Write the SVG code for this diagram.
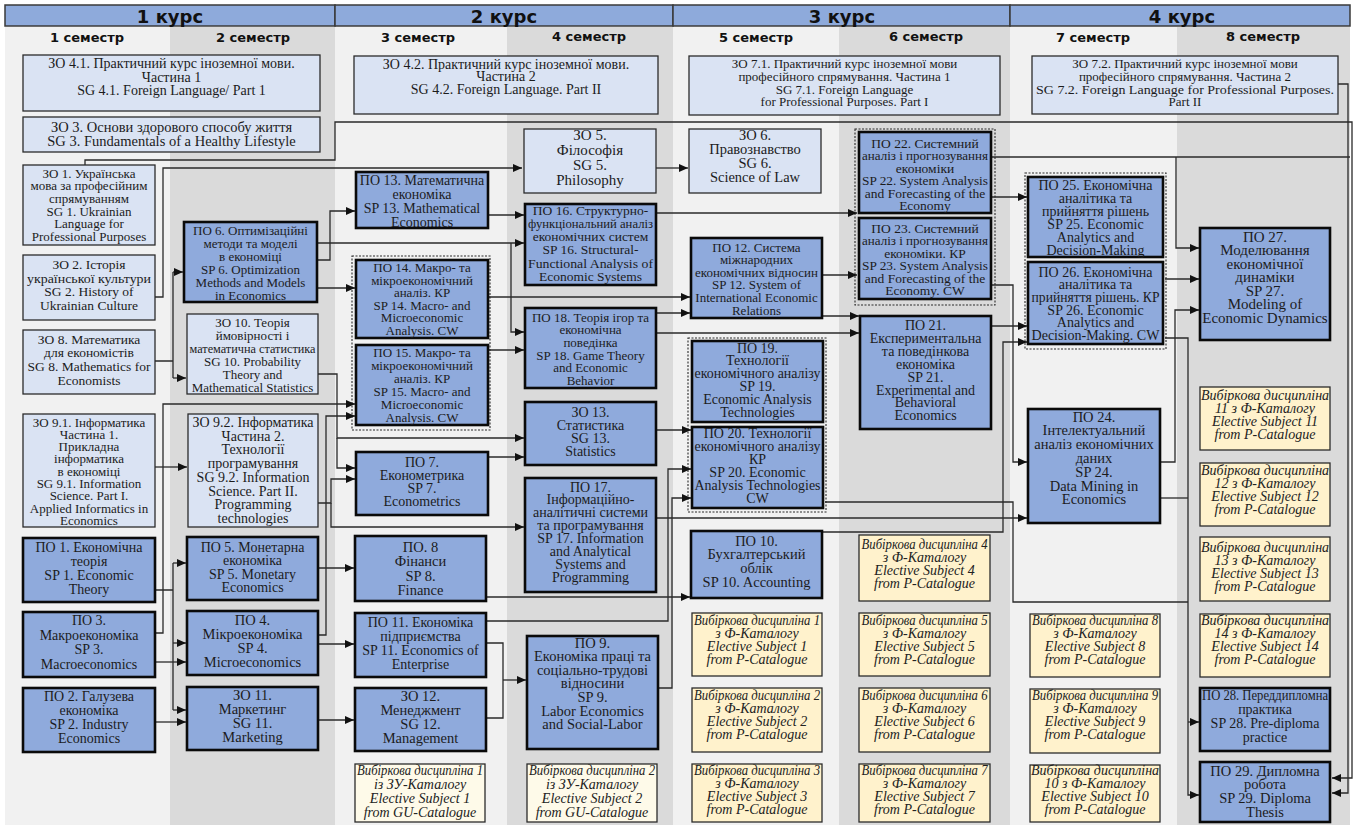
<svg xmlns="http://www.w3.org/2000/svg" width="1357" height="826" viewBox="0 0 1357 826">
<style>
.t{font-family:"Liberation Serif","Times New Roman",serif;fill:#1c1c1c;text-anchor:middle}
.i{font-style:italic;fill:#222}
.lb{fill:#dae3f3;stroke:#2b2b2b;stroke-width:1.3}
.db{fill:#8faadc;stroke:#0a0a0a;stroke-width:2.6}
.el{fill:#fff2cc;stroke:#2b2b2b;stroke-width:1.3}
.eg{fill:#fefae9;stroke:#2b2b2b;stroke-width:1.3}
.gr{fill:none;stroke:#2b2b2b;stroke-width:1.1;stroke-dasharray:2 1.5}
.hb{fill:#8eaadb;stroke:#3a3a3a;stroke-width:1.5}
.ht{font-family:"DejaVu Sans",sans-serif;font-weight:bold;font-size:18px;fill:#111;text-anchor:middle}
.st{font-family:"DejaVu Sans",sans-serif;font-weight:bold;font-size:13px;fill:#111;text-anchor:middle}
.c path{fill:none;stroke:#2a2a2a;stroke-width:1.3}
.c .a{marker-end:url(#ah)}
</style>
<defs>
<marker id="ah" markerUnits="userSpaceOnUse" markerWidth="9" markerHeight="8" refX="9" refY="4" orient="auto"><path d="M0,0 L9,4 L0,8 z" fill="#111"/></marker>
</defs>
<rect width="1357" height="826" fill="#fff"/>
<g id="stripes">
<rect x="5" y="27" width="165" height="798" fill="#f1f1f1"/>
<rect x="170" y="27" width="165" height="798" fill="#dadada"/>
<rect x="335" y="27" width="172" height="798" fill="#f1f1f1"/>
<rect x="507" y="27" width="166" height="798" fill="#dadada"/>
<rect x="673" y="27" width="166" height="798" fill="#f1f1f1"/>
<rect x="839" y="27" width="171" height="798" fill="#dadada"/>
<rect x="1010" y="27" width="167" height="798" fill="#f1f1f1"/>
<rect x="1177" y="27" width="173" height="798" fill="#dadada"/>
</g>
<g id="headers">
<rect class="hb" x="5" y="5" width="330" height="21"/>
<rect class="hb" x="335" y="5" width="338" height="21"/>
<rect class="hb" x="673" y="5" width="337" height="21"/>
<rect class="hb" x="1010" y="5" width="340" height="21"/>
<text class="ht" x="170" y="23">1 курс</text>
<text class="ht" x="504" y="23">2 курс</text>
<text class="ht" x="842" y="23">3 курс</text>
<text class="ht" x="1182" y="23">4 курс</text>
<text class="st" x="87" y="42">1 семестр</text>
<text class="st" x="253" y="42">2 семестр</text>
<text class="st" x="418" y="42">3 семестр</text>
<text class="st" x="589" y="41">4 семестр</text>
<text class="st" x="756" y="42">5 семестр</text>
<text class="st" x="926" y="41">6 семестр</text>
<text class="st" x="1093" y="42">7 семестр</text>
<text class="st" x="1263" y="41">8 семестр</text>
</g>
<g id="groups">
<rect class="gr" x="352" y="256" width="138" height="174"/>
<rect class="gr" x="688" y="338" width="138" height="174"/>
<rect class="gr" x="855" y="129" width="140" height="176"/>
<rect class="gr" x="1025" y="173" width="141" height="176"/>
</g>
<g class="c" id="connectors">
<path class="a" d="M85,165 V160 H335 V122 H1352 V778 H1332"/>
<path class="a" d="M1338,84 H1348 V793 H1332"/>
<path class="a" d="M155,297 H163 V168 H522"/>
<path class="a" d="M656,168 H688"/>
<path d="M155,361 H173 M173,272 V378"/>
<path class="a" d="M173,272 H183"/>
<path class="a" d="M173,378 H186"/>
<path class="a" d="M317,260 H330 V211 H355"/>
<path class="a" d="M317,243 H524"/>
<path class="a" d="M511,243 V332 H524"/>
<path class="a" d="M317,288 H355"/>
<path class="a" d="M488,215 H524"/>
<path class="a" d="M656,213 H857"/>
<path class="a" d="M488,297 H690"/>
<path class="a" d="M488,350 H524"/>
<path class="a" d="M656,313 H690"/>
<path class="a" d="M656,333 H859"/>
<path class="a" d="M822,316 H859"/>
<path class="a" d="M822,275 H857"/>
<path class="a" d="M656,430 H691"/>
<path class="a" d="M488,457 H524"/>
<path class="a" d="M318,374 H337 V438 H524"/>
<path class="a" d="M337,438 V468 H355"/>
<path class="a" d="M155,633 H163 V404 H355"/>
<path class="a" d="M318,635 H326 V416 H355"/>
<path class="a" d="M155,467 H187"/>
<path class="a" d="M318,503 H331 V479 H355"/>
<path class="a" d="M331,503 V527 H524"/>
<path d="M155,590 H173 M173,563 V710"/>
<path class="a" d="M173,563 H186"/>
<path class="a" d="M173,643 H186"/>
<path class="a" d="M173,710 H186"/>
<path class="a" d="M155,662 H186"/>
<path class="a" d="M155,722 H186"/>
<path class="a" d="M318,568 H354"/>
<path class="a" d="M318,644 H354"/>
<path class="a" d="M318,720 H354"/>
<path class="a" d="M486,597 H690"/>
<path class="a" d="M487,621 H668 V469 H691"/>
<path class="a" d="M658,688 H672 V498 H691"/>
<path d="M486,643 H503 V718 H486"/>
<path class="a" d="M503,680 H526"/>
<path class="a" d="M656,518 H1027"/>
<path d="M825,502 H1013 V602 H1188"/>
<path class="a" d="M822,532 H1003 V342 H1027"/>
<path class="a" d="M990,326 H1027"/>
<path class="a" d="M990,285 H1013 V462 H1027"/>
<path class="a" d="M990,197 H1027"/>
<path d="M990,157 H1350"/>
<path class="a" d="M1176,157 V248 H1199"/>
<path class="a" d="M1165,279 H1199"/>
<path class="a" d="M1160,462 H1175 V310 H1199"/>
<path class="a" d="M1165,338 H1188 V795 H1199"/>
<path d="M1160,498 H1188"/>
<path class="a" d="M1188,722 H1199"/>
</g>
<g id="zo41"><rect class="lb" x="23" y="55" width="297" height="56"/><text class="t" font-size="14" y="68"><tspan x="171.5">ЗО 4.1. Практичний курс іноземної мови.</tspan><tspan x="171.5" dy="13.5">Частина 1</tspan><tspan x="171.5" dy="13.5">SG 4.1. Foreign Language/ Part 1</tspan></text></g>
<g id="zo3"><rect class="lb" x="23" y="117" width="297" height="35"/><text class="t" font-size="14.5" y="132"><tspan x="171.5">ЗО 3. Основи здорового способу життя</tspan><tspan x="171.5" dy="13.5">SG 3. Fundamentals of a Healthy Lifestyle</tspan></text></g>
<g id="zo1"><rect class="lb" x="23" y="165" width="132" height="80"/><text class="t" font-size="13" y="177.5"><tspan x="89">ЗО 1. Українська</tspan><tspan x="89" dy="12.7">мова за професійним</tspan><tspan x="89" dy="12.7">спрямуванням</tspan><tspan x="89" dy="12.7">SG 1. Ukrainian</tspan><tspan x="89" dy="12.7">Language for</tspan><tspan x="89" dy="12.7">Professional Purposes</tspan></text></g>
<g id="zo2"><rect class="lb" x="23" y="255" width="132" height="65"/><text class="t" font-size="13.5" y="269"><tspan x="89">ЗО 2. Історія</tspan><tspan x="89" dy="13.7" textLength="124" lengthAdjust="spacingAndGlyphs">української культури</tspan><tspan x="89" dy="13.7">SG 2. History of</tspan><tspan x="89" dy="13.7">Ukrainian Culture</tspan></text></g>
<g id="zo8"><rect class="lb" x="23" y="330" width="132" height="64"/><text class="t" font-size="13.5" y="343.5"><tspan x="89">ЗО 8. Математика</tspan><tspan x="89" dy="13.7">для економістів</tspan><tspan x="89" dy="13.7">SG 8. Mathematics for</tspan><tspan x="89" dy="13.7">Economists</tspan></text></g>
<g id="zo91"><rect class="lb" x="23" y="414" width="132" height="113"/><text class="t" font-size="13" y="426.5"><tspan x="89">ЗО 9.1. Інформатика</tspan><tspan x="89" dy="12.3">Частина 1.</tspan><tspan x="89" dy="12.3">Прикладна</tspan><tspan x="89" dy="12.3">інформатика</tspan><tspan x="89" dy="12.3">в економіці</tspan><tspan x="89" dy="12.3">SG 9.1. Information</tspan><tspan x="89" dy="12.3">Science. Part I.</tspan><tspan x="89" dy="12.3">Applied Informatics in</tspan><tspan x="89" dy="12.3">Economics</tspan></text></g>
<g id="po1"><rect class="db" x="23" y="538" width="132" height="64"/><text class="t" font-size="14" y="551.5"><tspan x="89">ПО 1. Економічна</tspan><tspan x="89" dy="14">теорія</tspan><tspan x="89" dy="14">SP 1. Economic</tspan><tspan x="89" dy="14">Theory</tspan></text></g>
<g id="po3"><rect class="db" x="23" y="612" width="132" height="65"/><text class="t" font-size="14" y="625"><tspan x="89">ПО 3.</tspan><tspan x="89" dy="14.5">Макроекономіка</tspan><tspan x="89" dy="14.5">SP 3.</tspan><tspan x="89" dy="14.5">Macroeconomics</tspan></text></g>
<g id="po2"><rect class="db" x="23" y="688" width="132" height="64"/><text class="t" font-size="14" y="701"><tspan x="89">ПО 2. Галузева</tspan><tspan x="89" dy="14">економіка</tspan><tspan x="89" dy="14">SP 2. Industry</tspan><tspan x="89" dy="14">Economics</tspan></text></g>
<g id="po6"><rect class="db" x="184" y="222" width="133" height="80"/><text class="t" font-size="13" y="234.5"><tspan x="250.5">ПО 6. Оптимізаційні</tspan><tspan x="250.5" dy="13">методи та моделі</tspan><tspan x="250.5" dy="13">в економіці</tspan><tspan x="250.5" dy="13">SP 6. Optimization</tspan><tspan x="250.5" dy="13">Methods and Models</tspan><tspan x="250.5" dy="13">in Economics</tspan></text></g>
<g id="zo10"><rect class="lb" x="187" y="314" width="131" height="80"/><text class="t" font-size="13" y="326.5"><tspan x="252.5">ЗО 10. Теорія</tspan><tspan x="252.5" dy="13">ймовірності і</tspan><tspan x="252.5" dy="13" textLength="126" lengthAdjust="spacingAndGlyphs">математична статистика</tspan><tspan x="252.5" dy="13">SG 10. Probability</tspan><tspan x="252.5" dy="13">Theory and</tspan><tspan x="252.5" dy="13">Mathematical Statistics</tspan></text></g>
<g id="zo92"><rect class="lb" x="188" y="414" width="130" height="113"/><text class="t" font-size="14" y="427"><tspan x="253">ЗО 9.2. Інформатика</tspan><tspan x="253" dy="13.7">Частина 2.</tspan><tspan x="253" dy="13.7">Технології</tspan><tspan x="253" dy="13.7">програмування</tspan><tspan x="253" dy="13.7">SG 9.2. Information</tspan><tspan x="253" dy="13.7">Science. Part II.</tspan><tspan x="253" dy="13.7">Programming</tspan><tspan x="253" dy="13.7">technologies</tspan></text></g>
<g id="po5"><rect class="db" x="187" y="537" width="131" height="63"/><text class="t" font-size="14" y="551.5"><tspan x="252.5">ПО 5. Монетарна</tspan><tspan x="252.5" dy="13.5">економіка</tspan><tspan x="252.5" dy="13.5">SP 5. Monetary</tspan><tspan x="252.5" dy="13.5">Economics</tspan></text></g>
<g id="po4"><rect class="db" x="187" y="611" width="131" height="64"/><text class="t" font-size="14.5" y="624.5"><tspan x="252.5">ПО 4.</tspan><tspan x="252.5" dy="14.3">Мікроекономіка</tspan><tspan x="252.5" dy="14.3">SP 4.</tspan><tspan x="252.5" dy="14.3">Microeconomics</tspan></text></g>
<g id="zo11"><rect class="db" x="187" y="687" width="131" height="63"/><text class="t" font-size="14.5" y="699.5"><tspan x="252.5">ЗО 11.</tspan><tspan x="252.5" dy="14.3">Маркетинг</tspan><tspan x="252.5" dy="14.3">SG 11.</tspan><tspan x="252.5" dy="14.3">Marketing</tspan></text></g>
<g id="zo42"><rect class="lb" x="354" y="56" width="304" height="58"/><text class="t" font-size="14" y="68.5"><tspan x="506">ЗО 4.2. Практичний курс іноземної мови.</tspan><tspan x="506" dy="12.7">Частина 2</tspan><tspan x="506" dy="12.7">SG 4.2. Foreign Language. Part II</tspan></text></g>
<g id="po13"><rect class="db" x="356" y="172" width="132" height="56"/><text class="t" font-size="14" y="184.5"><tspan x="422">ПО 13. Математична</tspan><tspan x="422" dy="14">економіка</tspan><tspan x="422" dy="14">SP 13. Mathematical</tspan><tspan x="422" dy="14">Economics</tspan></text></g>
<g id="po14"><rect class="db" x="356" y="260" width="132" height="78"/><text class="t" font-size="13" y="272"><tspan x="422">ПО 14. Макро- та</tspan><tspan x="422" dy="12.6">мікроекономічний</tspan><tspan x="422" dy="12.6">аналіз. КР</tspan><tspan x="422" dy="12.6">SP 14. Macro- and</tspan><tspan x="422" dy="12.6">Microeconomic</tspan><tspan x="422" dy="12.6">Analysis. CW</tspan></text></g>
<g id="po15"><rect class="db" x="356" y="345" width="132" height="80"/><text class="t" font-size="13" y="356.5"><tspan x="422">ПО 15. Макро- та</tspan><tspan x="422" dy="13">мікроекономічний</tspan><tspan x="422" dy="13">аналіз. КР</tspan><tspan x="422" dy="13">SP 15. Macro- and</tspan><tspan x="422" dy="13">Microeconomic</tspan><tspan x="422" dy="13">Analysis. CW</tspan></text></g>
<g id="po7"><rect class="db" x="356" y="452" width="132" height="63"/><text class="t" font-size="14" y="466.5"><tspan x="422">ПО 7.</tspan><tspan x="422" dy="13.3">Економетрика</tspan><tspan x="422" dy="13.3">SP 7.</tspan><tspan x="422" dy="13.3">Econometrics</tspan></text></g>
<g id="po8"><rect class="db" x="355" y="536" width="131" height="65"/><text class="t" font-size="14.5" y="551.5"><tspan x="420.5">ПО. 8</tspan><tspan x="420.5" dy="14.5">Фінанси</tspan><tspan x="420.5" dy="14.5">SP 8.</tspan><tspan x="420.5" dy="14.5">Finance</tspan></text></g>
<g id="po11"><rect class="db" x="355" y="613" width="131" height="64"/><text class="t" font-size="14" y="626.5"><tspan x="420.5">ПО 11. Економіка</tspan><tspan x="420.5" dy="14">підприємства</tspan><tspan x="420.5" dy="14">SP 11. Economics of</tspan><tspan x="420.5" dy="14">Enterprise</tspan></text></g>
<g id="zo12"><rect class="db" x="355" y="688" width="131" height="63"/><text class="t" font-size="14.5" y="700.5"><tspan x="420.5">ЗО 12.</tspan><tspan x="420.5" dy="14.3">Менеджмент</tspan><tspan x="420.5" dy="14.3">SG 12.</tspan><tspan x="420.5" dy="14.3">Management</tspan></text></g>
<g id="gu1"><rect class="eg" x="355" y="764" width="130" height="58"/><text class="t i" font-size="14" y="774.5"><tspan x="420" textLength="126" lengthAdjust="spacingAndGlyphs">Вибіркова дисципліна 1</tspan><tspan x="420" dy="14">із ЗУ-Каталогу</tspan><tspan x="420" dy="14">Elective Subject 1</tspan><tspan x="420" dy="14">from GU-Catalogue</tspan></text></g>
<g id="zo5"><rect class="lb" x="524" y="129" width="132" height="64"/><text class="t" font-size="15" y="140"><tspan x="590">ЗО 5.</tspan><tspan x="590" dy="15">Філософія</tspan><tspan x="590" dy="15">SG 5.</tspan><tspan x="590" dy="15">Philosophy</tspan></text></g>
<g id="po16"><rect class="db" x="525" y="204" width="131" height="81"/><text class="t" font-size="13.5" y="214.5"><tspan x="590.5">ПО 16. Структурно-</tspan><tspan x="590.5" dy="13.3" textLength="125" lengthAdjust="spacingAndGlyphs">функціональний аналіз</tspan><tspan x="590.5" dy="13.3">економічних систем</tspan><tspan x="590.5" dy="13.3">SP 16. Structural-</tspan><tspan x="590.5" dy="13.3" textLength="125" lengthAdjust="spacingAndGlyphs">Functional Analysis of</tspan><tspan x="590.5" dy="13.3">Economic Systems</tspan></text></g>
<g id="po18"><rect class="db" x="525" y="308" width="131" height="80"/><text class="t" font-size="13" y="321.5"><tspan x="590.5">ПО 18. Теорія ігор та</tspan><tspan x="590.5" dy="12.7">економічна</tspan><tspan x="590.5" dy="12.7">поведінка</tspan><tspan x="590.5" dy="12.7">SP 18. Game Theory</tspan><tspan x="590.5" dy="12.7">and Economic</tspan><tspan x="590.5" dy="12.7">Behavior</tspan></text></g>
<g id="zo13"><rect class="db" x="525" y="402" width="131" height="63"/><text class="t" font-size="14" y="416.5"><tspan x="590.5">ЗО 13.</tspan><tspan x="590.5" dy="13.3">Статистика</tspan><tspan x="590.5" dy="13.3">SG 13.</tspan><tspan x="590.5" dy="13.3">Statistics</tspan></text></g>
<g id="po17"><rect class="db" x="525" y="478" width="131" height="114"/><text class="t" font-size="14" y="491.5"><tspan x="590.5">ПО 17.</tspan><tspan x="590.5" dy="12.9">Інформаційно-</tspan><tspan x="590.5" dy="12.9">аналітичні системи</tspan><tspan x="590.5" dy="12.9">та програмування</tspan><tspan x="590.5" dy="12.9">SP 17. Information</tspan><tspan x="590.5" dy="12.9">and Analytical</tspan><tspan x="590.5" dy="12.9">Systems and</tspan><tspan x="590.5" dy="12.9">Programming</tspan></text></g>
<g id="po9"><rect class="db" x="527" y="636" width="131" height="113"/><text class="t" font-size="14.5" y="647.5"><tspan x="592.5">ПО 9.</tspan><tspan x="592.5" dy="13.6">Економіка праці та</tspan><tspan x="592.5" dy="13.6">соціально-трудові</tspan><tspan x="592.5" dy="13.6">відносини</tspan><tspan x="592.5" dy="13.6">SP 9.</tspan><tspan x="592.5" dy="13.6">Labor Economics</tspan><tspan x="592.5" dy="13.6">and Social-Labor</tspan></text></g>
<g id="gu2"><rect class="eg" x="527" y="764" width="130" height="58"/><text class="t i" font-size="14" y="774.5"><tspan x="592" textLength="126" lengthAdjust="spacingAndGlyphs">Вибіркова дисципліна 2</tspan><tspan x="592" dy="14">із ЗУ-Каталогу</tspan><tspan x="592" dy="14">Elective Subject 2</tspan><tspan x="592" dy="14">from GU-Catalogue</tspan></text></g>
<g id="zo71"><rect class="lb" x="689" y="56" width="311" height="59"/><text class="t" font-size="13" y="68"><tspan x="844.5">ЗО 7.1. Практичний курс іноземної мови</tspan><tspan x="844.5" dy="12.8">професійного спрямування. Частина 1</tspan><tspan x="844.5" dy="12.8">SG 7.1. Foreign Language</tspan><tspan x="844.5" dy="12.8">for Professional Purposes. Part I</tspan></text></g>
<g id="zo6"><rect class="lb" x="689" y="129" width="132" height="64"/><text class="t" font-size="14.5" y="139.5"><tspan x="755">ЗО 6.</tspan><tspan x="755" dy="14.3">Правознавство</tspan><tspan x="755" dy="14.3">SG 6.</tspan><tspan x="755" dy="14.3">Science of Law</tspan></text></g>
<g id="po12"><rect class="db" x="691" y="238" width="131" height="80"/><text class="t" font-size="13" y="251.5"><tspan x="756.5">ПО 12. Система</tspan><tspan x="756.5" dy="12.6">міжнародних</tspan><tspan x="756.5" dy="12.6">економічних відносин</tspan><tspan x="756.5" dy="12.6">SP 12. System of</tspan><tspan x="756.5" dy="12.6">International Economic</tspan><tspan x="756.5" dy="12.6">Relations</tspan></text></g>
<g id="po19"><rect class="db" x="692" y="341" width="131" height="81"/><text class="t" font-size="14" y="352.5"><tspan x="757.5">ПО 19.</tspan><tspan x="757.5" dy="12.8">Технології</tspan><tspan x="757.5" dy="12.8" textLength="126" lengthAdjust="spacingAndGlyphs">економічного аналізу</tspan><tspan x="757.5" dy="12.8">SP 19.</tspan><tspan x="757.5" dy="12.8">Economic Analysis</tspan><tspan x="757.5" dy="12.8">Technologies</tspan></text></g>
<g id="po20"><rect class="db" x="692" y="427" width="131" height="81"/><text class="t" font-size="14" y="437.5"><tspan x="757.5">ПО 20. Технології</tspan><tspan x="757.5" dy="13" textLength="126" lengthAdjust="spacingAndGlyphs">економічного аналізу</tspan><tspan x="757.5" dy="13">КР</tspan><tspan x="757.5" dy="13">SP 20. Economic</tspan><tspan x="757.5" dy="13" textLength="126" lengthAdjust="spacingAndGlyphs">Analysis Technologies</tspan><tspan x="757.5" dy="13">CW</tspan></text></g>
<g id="po10"><rect class="db" x="691" y="531" width="131" height="67"/><text class="t" font-size="14.5" y="545.5"><tspan x="756.5">ПО 10.</tspan><tspan x="756.5" dy="13.7">Бухгалтерський</tspan><tspan x="756.5" dy="13.7">облік</tspan><tspan x="756.5" dy="13.7">SP 10. Accounting</tspan></text></g>
<g id="el1"><rect class="el" x="692" y="613" width="130" height="63"/><text class="t i" font-size="14" y="624.5"><tspan x="757" textLength="126" lengthAdjust="spacingAndGlyphs">Вибіркова дисципліна 1</tspan><tspan x="757" dy="13.3">з Ф-Каталогу</tspan><tspan x="757" dy="13.3">Elective Subject 1</tspan><tspan x="757" dy="13.3">from P-Catalogue</tspan></text></g>
<g id="el2"><rect class="el" x="692" y="688" width="130" height="64"/><text class="t i" font-size="14" y="699.5"><tspan x="757" textLength="126" lengthAdjust="spacingAndGlyphs">Вибіркова дисципліна 2</tspan><tspan x="757" dy="13.3">з Ф-Каталогу</tspan><tspan x="757" dy="13.3">Elective Subject 2</tspan><tspan x="757" dy="13.3">from P-Catalogue</tspan></text></g>
<g id="el3"><rect class="el" x="692" y="764" width="130" height="58"/><text class="t i" font-size="14" y="774.5"><tspan x="757" textLength="126" lengthAdjust="spacingAndGlyphs">Вибіркова дисципліна 3</tspan><tspan x="757" dy="13.3">з Ф-Каталогу</tspan><tspan x="757" dy="13.3">Elective Subject 3</tspan><tspan x="757" dy="13.3">from P-Catalogue</tspan></text></g>
<g id="po22"><rect class="db" x="859" y="132" width="132" height="81"/><text class="t" font-size="13.5" y="147.5"><tspan x="925">ПО 22. Системний</tspan><tspan x="925" dy="12.5" textLength="126" lengthAdjust="spacingAndGlyphs">аналіз і прогнозування</tspan><tspan x="925" dy="12.5">економіки</tspan><tspan x="925" dy="12.5" textLength="126" lengthAdjust="spacingAndGlyphs">SP 22. System Analysis</tspan><tspan x="925" dy="12.5">and Forecasting of the</tspan><tspan x="925" dy="12.5">Economy</tspan></text></g>
<g id="po23"><rect class="db" x="859" y="218" width="132" height="81"/><text class="t" font-size="13.5" y="232.5"><tspan x="925">ПО 23. Системний</tspan><tspan x="925" dy="12.5" textLength="126" lengthAdjust="spacingAndGlyphs">аналіз і прогнозування</tspan><tspan x="925" dy="12.5">економіки. КР</tspan><tspan x="925" dy="12.5" textLength="126" lengthAdjust="spacingAndGlyphs">SP 23. System Analysis</tspan><tspan x="925" dy="12.5">and Forecasting of the</tspan><tspan x="925" dy="12.5">Economy. CW</tspan></text></g>
<g id="po21"><rect class="db" x="860" y="316" width="131" height="113"/><text class="t" font-size="14" y="330"><tspan x="925.5">ПО 21.</tspan><tspan x="925.5" dy="12.9">Експериментальна</tspan><tspan x="925.5" dy="12.9">та поведінкова</tspan><tspan x="925.5" dy="12.9">економіка</tspan><tspan x="925.5" dy="12.9">SP 21.</tspan><tspan x="925.5" dy="12.9">Experimental and</tspan><tspan x="925.5" dy="12.9">Behavioral</tspan><tspan x="925.5" dy="12.9">Economics</tspan></text></g>
<g id="el4"><rect class="el" x="859" y="535" width="131" height="66"/><text class="t i" font-size="14" y="548.5"><tspan x="924.5" textLength="126" lengthAdjust="spacingAndGlyphs">Вибіркова дисципліна 4</tspan><tspan x="924.5" dy="13.3">з Ф-Каталогу</tspan><tspan x="924.5" dy="13.3">Elective Subject 4</tspan><tspan x="924.5" dy="13.3">from P-Catalogue</tspan></text></g>
<g id="el5"><rect class="el" x="859" y="613" width="131" height="63"/><text class="t i" font-size="14" y="624.5"><tspan x="924.5" textLength="126" lengthAdjust="spacingAndGlyphs">Вибіркова дисципліна 5</tspan><tspan x="924.5" dy="13.3">з Ф-Каталогу</tspan><tspan x="924.5" dy="13.3">Elective Subject 5</tspan><tspan x="924.5" dy="13.3">from P-Catalogue</tspan></text></g>
<g id="el6"><rect class="el" x="859" y="688" width="131" height="64"/><text class="t i" font-size="14" y="699.5"><tspan x="924.5" textLength="126" lengthAdjust="spacingAndGlyphs">Вибіркова дисципліна 6</tspan><tspan x="924.5" dy="13.3">з Ф-Каталогу</tspan><tspan x="924.5" dy="13.3">Elective Subject 6</tspan><tspan x="924.5" dy="13.3">from P-Catalogue</tspan></text></g>
<g id="el7"><rect class="el" x="859" y="764" width="131" height="58"/><text class="t i" font-size="14" y="774.5"><tspan x="924.5" textLength="126" lengthAdjust="spacingAndGlyphs">Вибіркова дисципліна 7</tspan><tspan x="924.5" dy="13.3">з Ф-Каталогу</tspan><tspan x="924.5" dy="13.3">Elective Subject 7</tspan><tspan x="924.5" dy="13.3">from P-Catalogue</tspan></text></g>
<g id="zo72"><rect class="lb" x="1032" y="56" width="306" height="58"/><text class="t" font-size="13" y="68"><tspan x="1185">ЗО 7.2. Практичний курс іноземної мови</tspan><tspan x="1185" dy="12.8">професійного спрямування. Частина 2</tspan><tspan x="1185" dy="12.8" textLength="298" lengthAdjust="spacingAndGlyphs">SG 7.2. Foreign Language for Professional Purposes.</tspan><tspan x="1185" dy="12.8">Part II</tspan></text></g>
<g id="po25"><rect class="db" x="1028" y="177" width="135" height="80"/><text class="t" font-size="14" y="189.5"><tspan x="1095.5">ПО 25. Економічна</tspan><tspan x="1095.5" dy="13">аналітика та</tspan><tspan x="1095.5" dy="13">прийняття рішень</tspan><tspan x="1095.5" dy="13">SP 25. Economic</tspan><tspan x="1095.5" dy="13">Analytics and</tspan><tspan x="1095.5" dy="13">Decision-Making</tspan></text></g>
<g id="po26"><rect class="db" x="1028" y="262" width="135" height="82"/><text class="t" font-size="14" y="276.5"><tspan x="1095.5">ПО 26. Економічна</tspan><tspan x="1095.5" dy="12.7">аналітика та</tspan><tspan x="1095.5" dy="12.7" textLength="128" lengthAdjust="spacingAndGlyphs">прийняття рішень. КР</tspan><tspan x="1095.5" dy="12.7">SP 26. Economic</tspan><tspan x="1095.5" dy="12.7">Analytics and</tspan><tspan x="1095.5" dy="12.7" textLength="128" lengthAdjust="spacingAndGlyphs">Decision-Making. CW</tspan></text></g>
<g id="po24"><rect class="db" x="1028" y="409" width="132" height="114"/><text class="t" font-size="14.5" y="421.5"><tspan x="1094">ПО 24.</tspan><tspan x="1094" dy="13.8">Інтелектуальний</tspan><tspan x="1094" dy="13.8">аналіз економічних</tspan><tspan x="1094" dy="13.8">даних</tspan><tspan x="1094" dy="13.8">SP 24.</tspan><tspan x="1094" dy="13.8">Data Mining in</tspan><tspan x="1094" dy="13.8">Economics</tspan></text></g>
<g id="el8"><rect class="el" x="1030" y="614" width="130" height="63"/><text class="t i" font-size="14" y="624.5"><tspan x="1095" textLength="126" lengthAdjust="spacingAndGlyphs">Вибіркова дисципліна 8</tspan><tspan x="1095" dy="13.3">з Ф-Каталогу</tspan><tspan x="1095" dy="13.3">Elective Subject 8</tspan><tspan x="1095" dy="13.3">from P-Catalogue</tspan></text></g>
<g id="el9"><rect class="el" x="1030" y="689" width="130" height="64"/><text class="t i" font-size="14" y="699.5"><tspan x="1095" textLength="126" lengthAdjust="spacingAndGlyphs">Вибіркова дисципліна 9</tspan><tspan x="1095" dy="13.3">з Ф-Каталогу</tspan><tspan x="1095" dy="13.3">Elective Subject 9</tspan><tspan x="1095" dy="13.3">from P-Catalogue</tspan></text></g>
<g id="el10"><rect class="el" x="1030" y="765" width="130" height="57"/><text class="t i" font-size="14" y="774.5"><tspan x="1095">Вибіркова дисципліна</tspan><tspan x="1095" dy="13.3">10 з Ф-Каталогу</tspan><tspan x="1095" dy="13.3">Elective Subject 10</tspan><tspan x="1095" dy="13.3">from P-Catalogue</tspan></text></g>
<g id="po27"><rect class="db" x="1200" y="228" width="130" height="112"/><text class="t" font-size="15" y="241.5"><tspan x="1265">ПО 27.</tspan><tspan x="1265" dy="13.5">Моделювання</tspan><tspan x="1265" dy="13.5">економічної</tspan><tspan x="1265" dy="13.5">динаміки</tspan><tspan x="1265" dy="13.5">SP 27.</tspan><tspan x="1265" dy="13.5">Modeling of</tspan><tspan x="1265" dy="13.5">Economic Dynamics</tspan></text></g>
<g id="el11"><rect class="el" x="1200" y="387" width="130" height="63"/><text class="t i" font-size="14" y="399.5"><tspan x="1265">Вибіркова дисципліна</tspan><tspan x="1265" dy="13.3">11 з Ф-Каталогу</tspan><tspan x="1265" dy="13.3">Elective Subject 11</tspan><tspan x="1265" dy="13.3">from P-Catalogue</tspan></text></g>
<g id="el12"><rect class="el" x="1200" y="463" width="130" height="63"/><text class="t i" font-size="14" y="474.5"><tspan x="1265">Вибіркова дисципліна</tspan><tspan x="1265" dy="13.3">12 з Ф-Каталогу</tspan><tspan x="1265" dy="13.3">Elective Subject 12</tspan><tspan x="1265" dy="13.3">from P-Catalogue</tspan></text></g>
<g id="el13"><rect class="el" x="1200" y="537" width="130" height="64"/><text class="t i" font-size="14" y="551.5"><tspan x="1265">Вибіркова дисципліна</tspan><tspan x="1265" dy="13.3">13 з Ф-Каталогу</tspan><tspan x="1265" dy="13.3">Elective Subject 13</tspan><tspan x="1265" dy="13.3">from P-Catalogue</tspan></text></g>
<g id="el14"><rect class="el" x="1200" y="614" width="130" height="63"/><text class="t i" font-size="14" y="624.5"><tspan x="1265">Вибіркова дисципліна</tspan><tspan x="1265" dy="13.3">14 з Ф-Каталогу</tspan><tspan x="1265" dy="13.3">Elective Subject 14</tspan><tspan x="1265" dy="13.3">from P-Catalogue</tspan></text></g>
<g id="po28"><rect class="db" x="1200" y="688" width="130" height="63"/><text class="t" font-size="14" y="699.5"><tspan x="1265" textLength="126" lengthAdjust="spacingAndGlyphs">ПО 28. Переддипломна</tspan><tspan x="1265" dy="14">практика</tspan><tspan x="1265" dy="14">SP 28. Pre-diploma</tspan><tspan x="1265" dy="14">practice</tspan></text></g>
<g id="po29"><rect class="db" x="1200" y="762" width="130" height="60"/><text class="t" font-size="14.5" y="775.5"><tspan x="1265">ПО 29. Дипломна</tspan><tspan x="1265" dy="13.7">робота</tspan><tspan x="1265" dy="13.7">SP 29. Diploma</tspan><tspan x="1265" dy="13.7">Thesis</tspan></text></g>
</svg>
